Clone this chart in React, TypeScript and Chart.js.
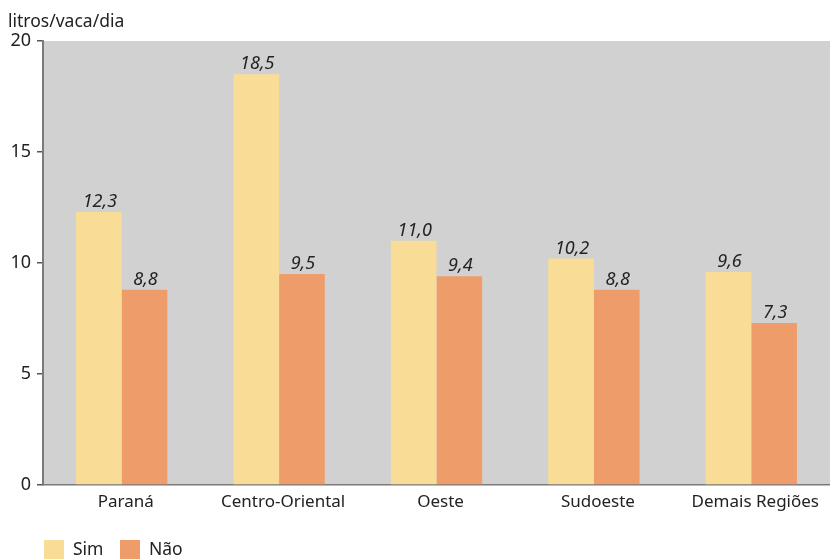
import React, { useEffect, useRef } from "react";
import { Chart, registerables } from "chart.js";

Chart.register(...registerables);

const regions = ["Paraná", "Centro-Oriental", "Oeste", "Sudoeste", "Demais Regiões"];
const simValues = [12.3, 18.5, 11.0, 10.2, 9.6];
const naoValues = [8.8, 9.5, 9.4, 8.8, 7.3];
const seriesNames = ["Sim", "Não"];
const yTicks = [0, 5, 10, 15, 20];
const yAxisTitle = "litros/vaca/dia";

const SIM_COLOR = "#f9dc96";
const NAO_COLOR = "#ee9c6a";
const PLOT_BG = "#d1d1d1";
const FONT = "'Noto Sans', sans-serif";

const fmt = (v: number) => v.toFixed(1).replace(".", ",");

const decorPlugin = {
  id: "decor",
  beforeDraw(chart: any) {
    const { ctx, chartArea } = chart;
    ctx.save();
    ctx.fillStyle = PLOT_BG;
    ctx.fillRect(chartArea.left, chartArea.top, chartArea.right - chartArea.left, chartArea.bottom - chartArea.top);
    ctx.restore();
  },
  afterDraw(chart: any) {
    const { ctx } = chart;
    ctx.save();
    // axis title
    ctx.fillStyle = "#222";
    ctx.font = `17.5px ${FONT}`;
    ctx.textAlign = "left";
    ctx.textBaseline = "alphabetic";
    ctx.fillText(yAxisTitle, 8, 27);

    // value labels
    ctx.font = `italic 18px ${FONT}`;
    ctx.textAlign = "center";
    ctx.textBaseline = "alphabetic";
    chart.data.datasets.forEach((ds: any, i: number) => {
      const meta = chart.getDatasetMeta(i);
      meta.data.forEach((bar: any, j: number) => {
        ctx.fillText(fmt(ds.data[j]), bar.x + 1, bar.y - 5);
      });
    });

    // legend
    const colors = [SIM_COLOR, NAO_COLOR];
    const xs = [44, 120];
    ctx.font = `17.5px ${FONT}`;
    ctx.textAlign = "left";
    ctx.textBaseline = "middle";
    seriesNames.forEach((name, i) => {
      ctx.fillStyle = colors[i];
      ctx.fillRect(xs[i], 540, 20, 20);
      ctx.fillStyle = "#222";
      ctx.fillText(name, xs[i] + 29, 550);
    });
    ctx.restore();
  },
};

export default function App() {
  const ref = useRef<HTMLCanvasElement>(null);
  useEffect(() => {
    document.body.style.margin = "0";
    const chart = new Chart(ref.current!, {
      type: "bar",
      data: {
        labels: regions,
        datasets: [
          { label: seriesNames[0], data: simValues, backgroundColor: SIM_COLOR, borderWidth: 0 },
          { label: seriesNames[1], data: naoValues, backgroundColor: NAO_COLOR, borderWidth: 0 },
        ],
      },
      options: {
        animation: false,
        responsive: false,
        layout: { padding: { top: 41, left: 0, right: 0, bottom: 0 } },
        plugins: { legend: { display: false }, tooltip: { enabled: false }, title: { display: false } },
        datasets: { bar: { categoryPercentage: 0.58, barPercentage: 1 } },
        scales: {
          x: {
            grid: { display: false, drawTicks: false },
            border: { color: "#7a7a7a", width: 1.5 },
            ticks: { color: "#222", font: { family: FONT, size: 17 }, padding: 7, labelOffset: 4, maxRotation: 0 },
            afterFit(scale: any) {
              scale.height = 74;
            },
          },
          y: {
            min: 0,
            max: 20,
            afterBuildTicks(scale: any) {
              scale.ticks = yTicks.map((v) => ({ value: v }));
            },
            grid: { drawOnChartArea: false, drawTicks: true, tickLength: 6, color: "#555", lineWidth: 1.5 },
            border: { color: "#7a7a7a", width: 2 },
            ticks: { color: "#222", font: { family: FONT, size: 18 }, padding: 6 },
            afterFit(scale: any) {
              scale.width = 43;
            },
          },
        },
      },
      plugins: [decorPlugin],
    });
    return () => chart.destroy();
  }, []);
  return <canvas ref={ref} width={830} height={559} style={{ display: "block" }} />;
}
